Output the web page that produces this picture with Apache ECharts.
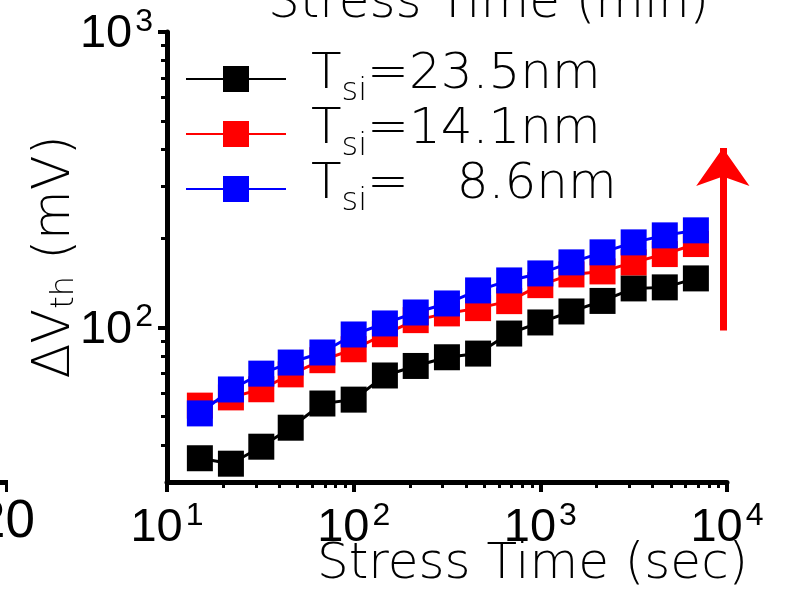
<!DOCTYPE html>
<html>
<head>
<meta charset="utf-8">
<script src="https://cdn.jsdelivr.net/npm/echarts@6/dist/echarts.min.js"></script>
<style>
html, body { margin: 0; padding: 0; background: #fff; }
#chart { width: 785px; height: 597px; }
</style>
</head>
<body>
<div id="chart"></div>
<script>
// stress time (sec)
var stressTime = [15, 22, 32, 46, 68, 100, 147, 215, 316, 464, 681, 1000, 1468, 2154, 3162, 4642, 6813];
// delta Vth (mV) for each Tsi
var dvth235 = [36.1, 34.6, 39.5, 45.8, 55.3, 57.0, 68.8, 74.1, 79.3, 81.6, 95.4, 104.0, 113.3, 123.0, 135.6, 136.7, 146.6];
var dvth141 = [54.4, 58.0, 61.8, 69.4, 77.5, 84.4, 94.9, 105.9, 111.6, 116.3, 122.8, 139.1, 151.2, 154.8, 166.1, 177.2, 191.6];
var dvth86 = [51.2, 61.7, 69.8, 76.1, 82.3, 94.7, 103.2, 112.4, 120.6, 133.5, 144.3, 152.4, 166.1, 179.6, 194.1, 205.0, 213.2];
var tsiNames = ['23.5nm', '14.1nm', '8.6nm'];
var lineColors = ['#000000', '#ff0000', '#0000ff'];

var xRange = [10, 10000];
var yRange = [30, 1000];
var xMajorTicks = [10, 100, 1000, 10000];
var xMinorTicks = [20, 30, 40, 50, 60, 70, 80, 90, 200, 300, 400, 500, 600, 700, 800, 900, 2000, 3000, 4000, 5000, 6000, 7000, 8000, 9000];
var yMajorTicks = [100, 1000];
var yMinorTicks = [40, 50, 60, 70, 80, 90, 200, 300, 400, 500, 600, 700, 800, 900];

// red arrow (x, from y, to y)
var arrowX = 9500;
var arrowY = [97.7, 405];

var thinFont = 'DejaVu Sans';
var numFont = 'Liberation Sans';

var dom = document.getElementById('chart');
var myChart = echarts.init(dom, null, {renderer: 'canvas'});

function pairs(ys) {
    var out = [];
    for (var i = 0; i < stressTime.length; i++) {
        out.push([stressTime[i], ys[i]]);
    }
    return out;
}

function lg(list) {
    return list.map(function (v) { return Math.log10(v); });
}

// tick labels as 10^n, n = exponent
function powLabel(value) {
    return '{b|10}{s|' + Math.round(value) + '}';
}

var labelRich = {
    b: {fontSize: 47, fontFamily: numFont, color: '#000', lineHeight: 52, verticalAlign: 'bottom'},
    s: {fontSize: 32, fontFamily: numFont, color: '#000', lineHeight: 22, verticalAlign: 'top', padding: [0, 0, 0, 3]}
};

var allData = [dvth235, dvth141, dvth86];
var series = [];
for (var k = 0; k < 3; k++) {
    series.push({
        name: tsiNames[k],
        type: 'line',
        data: pairs(allData[k]),
        symbol: 'rect',
        symbolSize: 26,
        color: lineColors[k],
        lineStyle: {width: 3, color: lineColors[k]},
        itemStyle: {color: lineColors[k]},
        z: 2 + k
    });
}
series[1].markLine = {
    silent: true,
    symbol: ['none', 'arrow'],
    symbolSize: [40, 38],
    label: {show: false},
    lineStyle: {color: '#ff0000', width: 7, type: 'solid'},
    data: [[{coord: [arrowX, arrowY[0]]}, {coord: [arrowX, arrowY[1]]}]]
};

// overlay value axis in log10 space, only used for ticks / labels
function tickAxis(range, values, len, width, withLabels, pos, margin) {
    return {
        type: 'value',
        position: pos,
        min: Math.log10(range[0]),
        max: Math.log10(range[1]),
        splitLine: {show: false},
        axisLine: {show: false},
        axisTick: {show: true, customValues: values, length: len, lineStyle: {width: width, color: '#000'}},
        axisLabel: withLabels ? {show: true, customValues: values, margin: margin, formatter: powLabel, rich: labelRich, showMinLabel: true, showMaxLabel: true} : {show: false}
    };
}

var option = {
    animation: false,
    backgroundColor: '#fff',
    grid: {left: 167, right: 58, top: 32, bottom: 115},
    legend: {
        orient: 'vertical',
        left: 185,
        top: 50,
        padding: 0,
        itemWidth: 100,
        itemHeight: 32.5,
        itemGap: -3,
        data: tsiNames,
        formatter: function (name) {
            var pad = name === '8.6nm' ? '   ' : '';
            return '{f|T}{s|si}{t|=' + pad + name + '}';
        },
        textStyle: {
            fontFamily: thinFont, fontWeight: 200, fontSize: 50, color: '#000',
            rich: {
                f: {fontFamily: thinFont, fontWeight: 200, fontSize: 50, lineHeight: 58, verticalAlign: 'top', padding: [0, 0, 0, 20]},
                t: {fontFamily: thinFont, fontWeight: 200, fontSize: 50, lineHeight: 58, verticalAlign: 'top'},
                s: {fontFamily: thinFont, fontWeight: 200, fontSize: 32, lineHeight: 2, verticalAlign: 'bottom'}
            }
        }
    },
    xAxis: [{
        type: 'log',
        min: xRange[0],
        max: xRange[1],
        position: 'bottom',
        splitLine: {show: false},
        axisLine: {lineStyle: {color: '#000', width: 5}},
        axisTick: {show: false},
        axisLabel: {show: false}
    },
        tickAxis(xRange, lg(xMajorTicks), 10, 4, true, 'bottom', 18),
        tickAxis(xRange, lg(xMinorTicks), 6, 3, false, 'bottom', 0)
    ],
    yAxis: [{
        type: 'log',
        min: yRange[0],
        max: yRange[1],
        position: 'left',
        splitLine: {show: false},
        axisLine: {lineStyle: {color: '#000', width: 5}},
        axisTick: {show: false},
        axisLabel: {show: false},
        name: '{a|\u0394V}{b|th}{a| (mV)}',
        nameLocation: 'middle',
        nameRotate: 90,
        nameGap: 86,
        nameTextStyle: {
            color: '#000',
            rich: {
                a: {fontFamily: thinFont, fontWeight: 200, fontSize: 51, lineHeight: 51, verticalAlign: 'top', color: '#000'},
                b: {fontFamily: thinFont, fontWeight: 200, fontSize: 32, lineHeight: 2, verticalAlign: 'bottom', color: '#000'}
            }
        }
    },
        tickAxis(yRange, lg(yMajorTicks), 9, 4, true, 'left', 14),
        tickAxis(yRange, lg(yMinorTicks), 6, 3, false, 'left', 0)
    ],
    graphic: [{
        type: 'text',
        left: 317,
        top: 540,
        style: {text: 'Stress Time (sec)', fontFamily: thinFont, fontWeight: 200, fontSize: 50, fill: '#000'}
    }, {
        type: 'text',
        left: 268,
        top: -21,
        style: {text: 'Stress Time (min)', fontFamily: thinFont, fontWeight: 200, fontSize: 50, fill: '#000'}
    }, {
        type: 'text',
        left: -24,
        top: 496,
        style: {text: '20', fontFamily: numFont, fontSize: 53, fill: '#000'}
    }, {
        type: 'rect',
        shape: {x: 0, y: 480, width: 8, height: 5},
        style: {fill: '#000'}
    }, {
        type: 'rect',
        shape: {x: 5, y: 480, width: 3, height: 12},
        style: {fill: '#000'}
    }],
    series: series
};

if (option && typeof option === 'object') {
    myChart.setOption(option, true);
}
</script>
</body>
</html>
